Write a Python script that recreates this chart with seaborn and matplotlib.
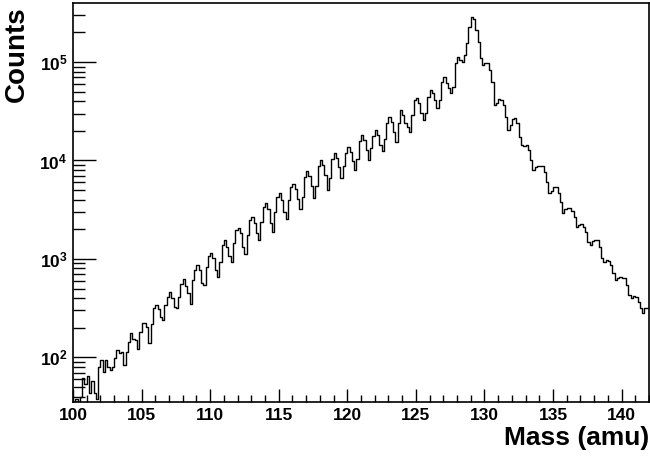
import numpy as np
import pandas as pd
import matplotlib
matplotlib.use("Agg")
import matplotlib.pyplot as plt
import seaborn as sns
from matplotlib.ticker import LogLocator, MultipleLocator, FuncFormatter, NullFormatter, FixedLocator

# ---------------- data ----------------
mass_min = 100.0
mass_max = 142.0
n_bins = 252  # bin width 1/6 amu

counts_100_116 = [
    30, 38, 30,
    40, 61, 54, 64, 43, 57, 43, 38, 80, 94, 71, 94, 80, 74, 80, 98, 119, 110, 114, 84,
    114, 144, 175, 152, 150, 123, 182, 222, 225, 205, 139, 218, 315, 340, 310, 259, 239,
    340, 414, 465, 398, 327, 320, 414, 556, 625, 531, 447, 348, 611, 773, 867, 773, 565,
    543, 834, 1072, 1159, 1014, 773, 661, 938, 1386, 1556, 1333, 1072, 938, 1442, 1968,
    2046, 1820, 1333, 1122, 1750, 2488, 2692, 2301, 1820, 1556, 2393, 3396, 3673, 3192,
    2301, 1892, 3020, 4295, 4710, 3972, 3020, 2523, 3972, 5420,
]
counts_116_124 = [
    5754, 5129, 4074, 3236, 4266, 6761,
    7762, 6918, 5495, 4169, 5495, 8810,
    10120, 9016, 7161, 5012, 6607, 10470,
    12020, 10720, 8511, 6607, 8710, 12020,
    13800, 12300, 9772, 7943, 10470, 15850,
    18200, 16220, 12880, 10230, 13490, 17780,
    20420, 18200, 14450, 12590, 16600, 23990,
    27540, 24550, 19500, 15490,
]
counts_124_142 = [
    23880, 32660, 29040, 23880, 22080, 19630, 29040, 41210, 42850, 38110, 30200, 25820,
    30200, 44570, 52120, 48190, 41210, 33880, 41210, 63100, 69980, 60950, 54200, 48190,
    56360, 97270, 113800, 105200, 101200, 118000, 154900, 229100, 285100, 272300, 212300,
    161400, 109400, 93540, 97270, 97270, 83180, 63100, 36640, 38110, 41880, 41210, 36640,
    27930, 20420, 22960, 26240, 26850, 23880, 17500, 14390, 14060, 14390, 12790, 10120,
    8017, 8670, 8790, 8790, 8790, 7709, 6095, 4710, 4943, 5420, 5346, 4645, 3819, 2904,
    3192, 3266, 3266, 3097, 2692, 2128, 2213, 2265, 2128, 1892, 1500, 1387, 1535, 1556,
    1556, 1334, 1014, 938, 975, 959, 867, 713, 611, 635, 661, 635, 635, 543, 430, 398,
    420, 414, 368, 315, 280, 315, 315,
]
counts = counts_100_116 + counts_116_124 + counts_124_142

x_tick_values = [100, 105, 110, 115, 120, 125, 130, 135, 140]
y_limits = (35.2, 3.95e5)
x_label = "Mass (amu)"
y_label = "Counts"

# ---------------- plot ----------------
sns.set_theme(style="white")
plt.rcParams["font.family"] = ["Liberation Sans", "DejaVu Sans"]
plt.rcParams["font.weight"] = "bold"
plt.rcParams["mathtext.fontset"] = "custom"
plt.rcParams["mathtext.rm"] = "Liberation Sans:bold"
plt.rcParams["mathtext.bf"] = "Liberation Sans:bold"
plt.rcParams["mathtext.it"] = "Liberation Sans:bold"

fig = plt.figure(figsize=(6.5, 4.58), dpi=100)
fig.patch.set_facecolor("white")
W, H = 650.0, 458.0
left, right, bottom, top = 73, 649, 402, 3.3
ax = fig.add_axes([left / W, 1 - bottom / H, (right - left) / W, (bottom - top) / H])
ax.set_facecolor("white")

bin_width = (mass_max - mass_min) / n_bins
centers = mass_min + bin_width * (np.arange(n_bins) + 0.5)
df = pd.DataFrame({"mass": centers, "counts": counts})

sns.histplot(data=df, x="mass", weights="counts", bins=n_bins,
             binrange=(mass_min, mass_max), element="step",
             fill=False, color="black", linewidth=1.0, ax=ax)
ax.set_yscale("log")
ax.set_xlim(mass_min, mass_max)
ax.set_ylim(*y_limits)

for s in ax.spines.values():
    s.set_visible(True)
    s.set_color("black")
    s.set_linewidth(1.2)

ax.xaxis.set_major_locator(FixedLocator(x_tick_values))
ax.xaxis.set_minor_locator(MultipleLocator(1))
ax.yaxis.set_major_locator(LogLocator(base=10, numticks=12))
ax.yaxis.set_minor_locator(LogLocator(base=10, subs=np.arange(2, 10), numticks=12))
ax.yaxis.set_minor_formatter(NullFormatter())
ax.yaxis.set_major_formatter(FuncFormatter(lambda v, p: r"$10^{%d}$" % int(round(np.log10(v)))))

ax.tick_params(axis="x", which="major", direction="in", length=9.4, width=1.0,
               color="black", labelsize=12.5, pad=4, top=False, bottom=True)
ax.tick_params(axis="x", which="minor", direction="in", length=5, width=1.0,
               color="black", top=False, bottom=True)
ax.tick_params(axis="y", which="major", direction="in", length=16.6, width=1.0,
               color="black", labelsize=12.5, pad=4, right=False, left=True)
ax.tick_params(axis="y", which="minor", direction="in", length=8.6, width=1.0,
               color="black", right=False, left=True)
for lab in ax.get_xticklabels() + ax.get_yticklabels():
    lab.set_fontweight("bold")
    lab.set_color("black")

ax.set_xlabel(x_label, fontsize=19, fontweight="bold", color="black", ha="right", va="top")
ax.xaxis.set_label_coords(1.0, -(426 - bottom) / (bottom - top))
ax.set_ylabel(y_label, fontsize=20, fontweight="bold", color="black", ha="right", va="bottom")
ax.yaxis.set_label_coords(-(left - 30) / (right - left), 1 - (6 - top) / (bottom - top))

fig.savefig("out.png", dpi=100, facecolor="white")
